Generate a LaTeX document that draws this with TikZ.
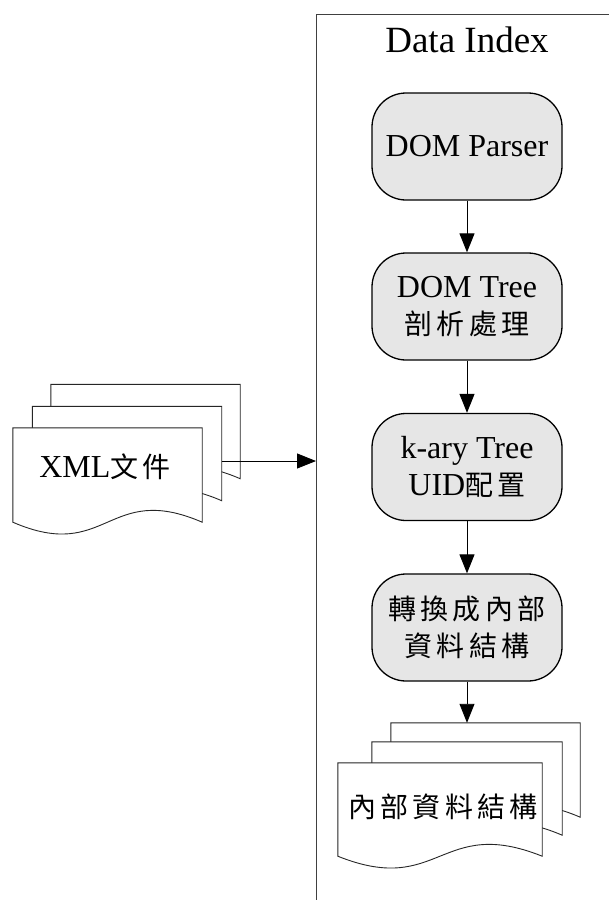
\documentclass[tikz,border=0pt]{standalone}
\usepackage{fontspec}
\setmainfont{Liberation Serif}
\newfontfamily\cjkfont{Noto Sans CJK TC}[LetterSpace=15]
\usetikzlibrary{arrows.meta,calc}
\definecolor{boxfill}{HTML}{E6E6E6}
\newcommand\cj[1]{{\cjkfont\fontsize{28}{37}\selectfont #1}}
\begin{document}
\begin{tikzpicture}[x=1pt,y=-1pt,
  procbox/.style={draw=black, line width=1.3pt, fill=boxfill, rounded corners=34pt,
    minimum width=190pt, minimum height=107pt, inner sep=0pt, align=center,
    font=\fontsize{32}{37}\selectfont},
  docnode/.style={minimum width=189pt, minimum height=94pt, inner sep=0pt},
  docline/.style={draw=black!85, line width=0.9pt, fill=white},
  arr/.style={draw=black, line width=0.9pt, -{Triangle[length=19pt,width=15pt]}},
  frameline/.style={draw=black!75, line width=0.9pt}]
\useasboundingbox (0,0) rectangle (609,900);
\newcommand\docshape[1]{%
  \draw[docline] (#1.south west) -- (#1.north west) -- (#1.north east) -- (#1.south east)
    .. controls ($(#1.south)+(0,-41)$) and ($(#1.south)+(0,41)$) .. (#1.south west) -- cycle;}

% frame
\coordinate (ftl) at (316,14);
\draw[frameline] (609,14) -- (ftl) -- (316,900);
\node[anchor=base, font=\fontsize{37}{40}\selectfont] (title) at (467,52) {Data Index};

% process boxes
\node[procbox] (b1) at (467,146.5) {DOM Parser};
\node[procbox] (b2) at (467,306.5) {DOM Tree\\\cj{剖析處理}};
\node[procbox] (b3) at (467,467) {k-ary Tree\\UID\cj{配置}};
\node[procbox] (b4) at (467,627.5) {\cj{轉換成內部}\\\cj{資料結構}};

% left document stack
\node[docnode] (x3) at (145.5,431.5) {};
\node[docnode] (x2) at (127,453.5) {};
\node[docnode] (x1) at (107.5,475) {};
\docshape{x3}
\docshape{x2}
\docshape{x1}
\node[font=\fontsize{32}{37}\selectfont] (xmltext) at (105,467) {XML\cj{文件}};

% bottom document stack
\node[docnode] (d3) at (485.5,770) {};
\node[docnode, minimum width=190pt, minimum height=93pt] (d2) at (467,788.5) {};
\node[docnode, minimum width=204pt, minimum height=93pt] (d1) at (440,809.5) {};
\docshape{d3}
\docshape{d2}
\docshape{d1}
\node (dtext) at (443,807) {\cj{內部資料結構}};

% connectors
\draw[arr] (b1) -- (b2);
\draw[arr] (b2) -- (b3);
\draw[arr] (b3) -- (b4);
\draw[arr] (b4.south) -- (b4.south |- d3.north);
\coordinate (xmlout) at (x2.east |- 0,461);
\draw[arr] (xmlout) -- (xmlout -| ftl);
\end{tikzpicture}
\end{document}
